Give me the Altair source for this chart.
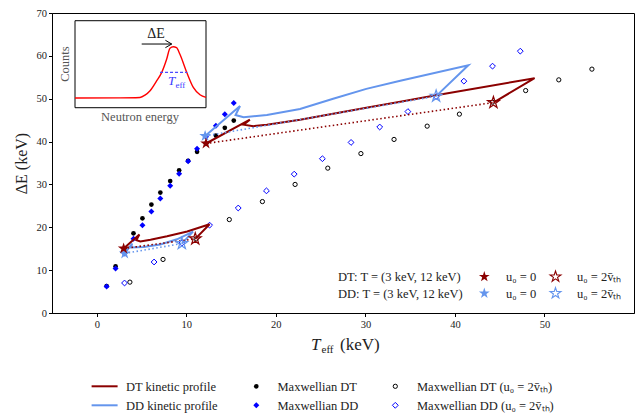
import altair as alt
import pandas as pd

FONT = "Liberation Serif"
DT_C = "#8B0000"
DD_C = "#6495ED"
STAR = ("M0,-1L0.2245,-0.309L0.9511,-0.309L0.3633,0.118L0.5878,0.809L0,0.382"
        "L-0.5878,0.809L-0.3633,0.118L-0.9511,-0.309L-0.2245,-0.309Z")

# ---------------- data ----------------
# Maxwellian, u0 = 0
mx_T = [1.1, 2.1, 3.1, 4.1, 5.1, 6.1, 7.1, 8.2, 9.2, 10.2, 11.2, 12.2, 13.3, 14.3, 15.3]
mx_dE_dt = [6.3, 10.9, 15.0, 18.6, 22.1, 25.3, 28.1, 30.8, 33.3, 35.5, 37.6, 39.5, 41.4, 43.2, 44.9]
mx_dE_dd = [6.2, 10.4, 13.9, 17.3, 20.5, 23.7, 26.7, 29.7, 32.5, 35.4, 38.3, 41.1, 43.7, 46.4, 49.0]
# Maxwellian, u0 = 2 v_th
mx2_T_dt = [3.7, 7.4, 11.1, 14.8, 18.5, 22.15, 25.8, 29.5, 33.2, 36.9, 40.5, 44.2, 47.9, 51.6, 55.3]
mx2_dE_dt = [7.2, 12.5, 17.3, 21.8, 26.0, 30.0, 33.8, 37.2, 40.5, 43.6, 46.4, 49.2, 51.9, 54.4, 56.9]
mx2_T_dd = [3.1, 6.4, 9.5, 12.6, 15.8, 18.95, 22.05, 25.2, 28.4, 31.6, 34.75, 37.9, 41.0, 44.2, 47.3]
mx2_dE_dd = [7.0, 11.9, 16.3, 20.5, 24.5, 28.5, 32.4, 36.0, 39.8, 43.4, 47.0, 50.5, 54.1, 57.6, 61.1]

# kinetic profiles (T = 3 keV and T = 12 keV)
dt_kin_3_T = [3.0, 4.76, 4.43, 4.87, 6.0, 7.85, 10.1, 12.6, 11.0]
dt_kin_3_dE = [15.05, 18.3, 17.0, 16.7, 17.1, 17.9, 19.0, 20.7, 17.3]
dd_kin_3_T = [3.12, 3.95, 3.83, 5.24, 7.1, 8.96, 10.75, 9.5]
dd_kin_3_dE = [13.9, 16.2, 15.3, 15.4, 16.0, 17.2, 19.0, 16.2]
dt_kin_12_T = [12.2, 17.1, 16.4, 17.5, 19.0, 22.7, 26.4, 30.1, 33.9, 37.9, 48.9, 44.3]
dt_kin_12_dE = [39.55, 45.1, 43.95, 43.6, 43.95, 45.1, 46.5, 47.9, 49.3, 50.8, 54.8, 49.1]
dd_kin_12_T = [12.1, 16.0, 15.5, 16.4, 19.0, 22.7, 26.4, 30.1, 33.9, 41.5, 37.9]
dd_kin_12_dE = [41.3, 48.3, 46.2, 45.7, 46.2, 47.6, 50.0, 52.3, 54.2, 57.8, 50.6]

# end points: u0 = 0 (filled stars) and u0 = 2 v_th (hollow stars)
dt_star0_T = [3.0, 12.2]
dt_star0_dE = [15.05, 39.55]
dt_star2_T = [11.0, 44.3]
dt_star2_dE = [17.3, 49.1]
dd_star0_T = [3.12, 12.1]
dd_star0_dE = [13.9, 41.3]
dd_star2_T = [9.5, 37.9]
dd_star2_dE = [16.2, 50.6]

# inset schematic spectrum (normalised energy, counts)
inset_E = [0, 0.344, 0.496, 0.534, 0.573, 0.624, 0.662, 0.70, 0.725, 0.75, 0.775, 0.80, 0.853, 0.903, 0.954, 1.0]
inset_C = [0.111, 0.113, 0.118, 0.144, 0.195, 0.31, 0.406, 0.56, 0.684, 0.70, 0.69, 0.617, 0.406, 0.233, 0.149, 0.118]

x_ticks = [0, 10, 20, 30, 40, 50]
y_ticks = [0, 10, 20, 30, 40, 50, 60, 70]

# ---------------- layout ----------------
PX0, PY0 = 52, 13
W, H = 582, 300
INS_X0, INS_X1 = -2.43, 12.2
INS_Y0, INS_Y1 = 47.9, 68.2

xs = alt.Scale(domain=[-5, 60], nice=False, zero=False)
ys = alt.Scale(domain=[0, 70], nice=False, zero=False)
xax = alt.Axis(values=x_ticks, title=None, grid=False, tickSize=3.5, labelPadding=3,
               labelFontSize=10.5, labelColor="#222", domainColor="black", tickColor="black")
yax = alt.Axis(values=y_ticks, title="ΔE (keV)", grid=False, tickSize=3.5, labelPadding=2,
               labelFontSize=10.5, labelColor="#222", domainColor="black", tickColor="black",
               titleFontSize=16, titleFontWeight="normal", titleColor="#222", titlePadding=7)
X = alt.X("x:Q", scale=xs, axis=xax)
Y = alt.Y("y:Q", scale=ys, axis=yax)


def pts(xv, yv):
    return pd.DataFrame({"x": xv, "y": yv})


def line(xv, yv, **kw):
    df = pd.DataFrame({"x": xv, "y": yv, "i": list(range(len(xv)))})
    return alt.Chart(df).mark_line(**kw).encode(X, Y, order="i:Q")


open_dt = alt.Chart(pts(mx2_T_dt, mx2_dE_dt)).mark_point(
    shape="circle", filled=False, size=18, stroke="black", strokeWidth=1, opacity=1).encode(X, Y)
open_dd = alt.Chart(pts(mx2_T_dd, mx2_dE_dd)).mark_point(
    shape="diamond", filled=False, size=34, stroke="#0000FF", strokeWidth=1, opacity=1).encode(X, Y)
fill_dt = alt.Chart(pts(mx_T, mx_dE_dt)).mark_point(
    shape="circle", filled=True, size=22, color="black", opacity=1).encode(X, Y)
fill_dd = alt.Chart(pts(mx_T, mx_dE_dd)).mark_point(
    shape="diamond", filled=True, size=36, color="#0000FF", opacity=1).encode(X, Y)

kin = [
    line(dt_kin_3_T, dt_kin_3_dE, color=DT_C, strokeWidth=2),
    line(dt_kin_12_T, dt_kin_12_dE, color=DT_C, strokeWidth=2),
    line(dd_kin_3_T, dd_kin_3_dE, color=DD_C, strokeWidth=2),
    line(dd_kin_12_T, dd_kin_12_dE, color=DD_C, strokeWidth=2),
]
dots = []
for k in range(2):
    dots.append(line([dt_star0_T[k], dt_star2_T[k]], [dt_star0_dE[k], dt_star2_dE[k]],
                     color=DT_C, strokeWidth=1.6, strokeDash=[1.5, 2.5]))
    dots.append(line([dd_star0_T[k], dd_star2_T[k]], [dd_star0_dE[k], dd_star2_dE[k]],
                     color=DD_C, strokeWidth=1.6, strokeDash=[1.5, 2.5]))

stars = [
    alt.Chart(pts(dd_star0_T, dd_star0_dE)).mark_point(
        shape=STAR, filled=True, size=150, color=DD_C, opacity=1).encode(X, Y),
    alt.Chart(pts(dt_star0_T, dt_star0_dE)).mark_point(
        shape=STAR, filled=True, size=150, color=DT_C, opacity=1).encode(X, Y),
    alt.Chart(pts(dd_star2_T, dd_star2_dE)).mark_point(
        shape=STAR, filled=False, size=150, stroke=DD_C, strokeWidth=1.2, opacity=1).encode(X, Y),
    alt.Chart(pts(dt_star2_T, dt_star2_dE)).mark_point(
        shape=STAR, filled=False, size=150, stroke=DT_C, strokeWidth=1.2, opacity=1).encode(X, Y),
]


# ---------------- inset (normalised coords mapped into the axes box) ----------------
def ins(df):
    return alt.Chart(df).transform_calculate(
        x=f"{INS_X0} + datum.e * {INS_X1 - INS_X0}",
        y=f"{INS_Y0} + datum.c * {INS_Y1 - INS_Y0}",
    )


frame = ins(pd.DataFrame({"e": [0], "c": [0], "e2": [1], "c2": [1]})).transform_calculate(
    x2=f"{INS_X0} + datum.e2 * {INS_X1 - INS_X0}",
    y2=f"{INS_Y0} + datum.c2 * {INS_Y1 - INS_Y0}",
).mark_rect(fill="white", stroke="black", strokeWidth=1).encode(X, Y, x2="x2:Q", y2="y2:Q")
spec = ins(pd.DataFrame({"e": inset_E, "c": inset_C, "i": list(range(len(inset_E)))})).mark_line(
    color="#FF0000", strokeWidth=1.4, interpolate="monotone").encode(X, Y, order="i:Q")
fwhm = ins(pd.DataFrame({"e": [0.649, 0.857], "c": [0.406, 0.406]})).mark_line(
    color="#4B4BFF", strokeWidth=1.2, strokeDash=[3, 2]).encode(X, Y)
arrow = ins(pd.DataFrame({"e": [0.509, 0.738], "c": [0.732, 0.732]})).mark_line(
    color="black", strokeWidth=1).encode(X, Y)
head = ins(pd.DataFrame({"e": [0.69, 0.738, 0.69], "c": [0.775, 0.732, 0.69], "i": [0, 1, 2]})).mark_line(
    color="black", strokeWidth=1).encode(X, Y, order="i:Q")


# ---------------- texts / legends ----------------
def txt(t, px, py, size=12.5, **kw):
    kw.setdefault("color", "#222")
    return alt.Chart(pd.DataFrame({"t": [t]})).mark_text(font=FONT, fontSize=size, **kw).encode(
        x=alt.value(px - PX0), y=alt.value(py - PY0), text="t:N")


def sym(px, py, **kw):
    return alt.Chart(pd.DataFrame({"a": [0]})).mark_point(opacity=1, **kw).encode(
        x=alt.value(px - PX0), y=alt.value(py - PY0))


def seg(px1, px2, py, color):
    return alt.Chart(pd.DataFrame({"a": [0]})).mark_rule(color=color, strokeWidth=2).encode(
        x=alt.value(px1 - PX0), x2=alt.value(px2 - PX0), y=alt.value(py - PY0))


texts = [
    # inset labels
    txt("ΔE", 156, 34, size=14),
    txt("T", 168, 81, size=13, fontStyle="italic", color="#3B3BFF", align="left"),
    txt("eff", 175.5, 85, size=9, color="#3B3BFF", align="left"),
    txt("Counts", 65, 64, size=12.5, angle=270, color="#555"),
    txt("Neutron energy", 140, 117, size=12.5, color="#555"),
    # x axis title
    txt("T", 311, 345, size=17, fontStyle="italic", align="left"),
    txt("eff", 321.5, 350, size=11, align="left"),
    txt("(keV)", 340, 345, size=17, align="left"),
    # inner legend
    txt("DT: T = (3 keV, 12 keV)", 338, 277, align="left"),
    txt("DD: T = (3 keV, 12 keV)", 338, 294, align="left"),
    sym(484.3, 276.7, shape=STAR, filled=True, size=130, color=DT_C),
    sym(484.3, 293.3, shape=STAR, filled=True, size=130, color=DD_C),
    sym(555.5, 276.7, shape=STAR, filled=False, size=130, stroke=DT_C, strokeWidth=1.1),
    sym(555.5, 293.3, shape=STAR, filled=False, size=130, stroke=DD_C, strokeWidth=1.1),
    txt("u₀ = 0", 506, 277, align="left"),
    txt("u₀ = 0", 506, 294, align="left"),
    txt("u₀ = 2v̄ₜₕ", 577, 277, align="left"),
    txt("u₀ = 2v̄ₜₕ", 577, 294, align="left"),
    # bottom legend
    seg(91.6, 117.6, 386.3, DT_C),
    seg(91.6, 117.6, 405.3, DD_C),
    txt("DT kinetic profile", 126, 386.5, align="left"),
    txt("DD kinetic profile", 126, 405.5, align="left"),
    sym(256.3, 386.3, shape="circle", filled=True, size=22, color="black"),
    sym(256.3, 405.3, shape="diamond", filled=True, size=36, color="#0000FF"),
    txt("Maxwellian DT", 277.5, 386.5, align="left"),
    txt("Maxwellian DD", 277.5, 405.5, align="left"),
    sym(395.3, 386.3, shape="circle", filled=False, size=18, stroke="black", strokeWidth=1),
    sym(395.3, 405.3, shape="diamond", filled=False, size=34, stroke="#0000FF", strokeWidth=1),
    txt("Maxwellian DT (u₀ = 2v̄ₜₕ)", 417, 386.5, align="left"),
    txt("Maxwellian DD (u₀ = 2v̄ₜₕ)", 417, 405.5, align="left"),
]

chart = alt.layer(
    open_dt, open_dd, fill_dt, fill_dd, *kin, *dots, *stars,
    frame, spec, fwhm, arrow, head,
    *texts,
).properties(
    width=W, height=H, autosize="none",
    padding={"left": PX0 - 8, "top": PY0 - 8, "right": 2, "bottom": 100},
).configure_view(stroke="black", strokeWidth=1).configure_axis(labelFont=FONT, titleFont=FONT)

chart.save("out.html", embed_options={"renderer": "svg", "actions": False})
